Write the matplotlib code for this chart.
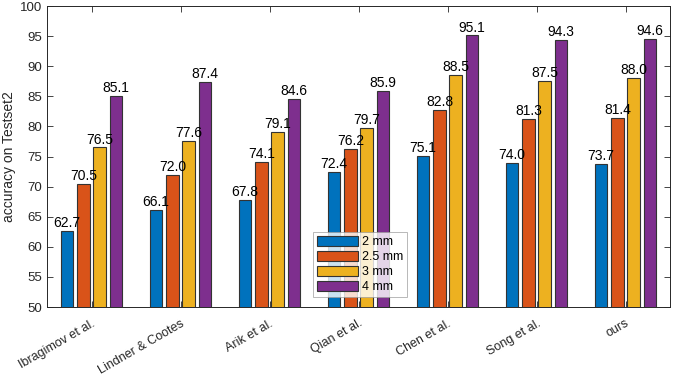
import matplotlib.pyplot as plt
import matplotlib.transforms as mtransforms
import numpy as np

plt.rcParams['font.family'] = ['Liberation Sans', 'DejaVu Sans']

methods = ['Ibragimov et al.', 'Lindner & Cootes', 'Arik et al.', 'Qian et al.',
           'Chen et al.', 'Song et al.', 'ours']
radii = ['2 mm', '2.5 mm', '3 mm', '4 mm']
acc_2mm = [62.7, 66.1, 67.8, 72.4, 75.1, 74.0, 73.7]
acc_25mm = [70.5, 72.0, 74.1, 76.2, 82.8, 81.3, 81.4]
acc_3mm = [76.5, 77.6, 79.1, 79.7, 88.5, 87.5, 88.0]
acc_4mm = [85.1, 87.4, 84.6, 85.9, 95.1, 94.3, 94.6]
series = [acc_2mm, acc_25mm, acc_3mm, acc_4mm]
colors = ['#0072BD', '#D95319', '#EDB120', '#7E2F8E']

fig = plt.figure(figsize=(6.73, 3.76), dpi=100)
ax = fig.add_axes([47 / 673, 1 - 307 / 376, 623 / 673, 301 / 376])

x = np.arange(1, len(methods) + 1)
offsets = [-0.275, -0.09, 0.09, 0.275]
width = 0.145
axc = '#262626'

for vals, off, col, lab in zip(series, offsets, colors, radii):
    bars = ax.bar(x + off, vals, width, color=col, edgecolor='#333333',
                  linewidth=0.8, label=lab, zorder=2)
    for b, v in zip(bars, vals):
        ax.text(b.get_x() + b.get_width() / 2, v + 0.15, '%.1f' % v,
                ha='center', va='bottom', fontsize=10, color='black')

ax.set_xlim(0.5, 7.5)
ax.set_ylim(50, 100)
ax.set_yticks(np.arange(50, 101, 5))
ax.set_xticks(x)
ax.set_xticklabels(methods, rotation=30, ha='right', va='top', rotation_mode='anchor',
                   fontsize=9, color=axc)
shift = mtransforms.ScaledTranslation(5 / 100, 0, fig.dpi_scale_trans)
for lbl in ax.get_xticklabels():
    lbl.set_transform(lbl.get_transform() + shift)
ax.tick_params(axis='y', labelsize=9.5, labelcolor=axc)
ax.tick_params(axis='x', pad=7.5)
ax.tick_params(direction='in', top=True, right=True, length=4, color=axc, width=0.6)
for s in ax.spines.values():
    s.set_color(axc)
    s.set_linewidth(0.7)
ax.set_ylabel('accuracy on Testset2', fontsize=10, color=axc, labelpad=3)

leg = ax.legend(loc='upper left', bbox_to_anchor=(266 / 623, 75 / 301),
                fontsize=9, frameon=True, fancybox=False, edgecolor='#999999',
                handlelength=3.3, handleheight=0.85, handletextpad=0.3,
                labelspacing=0.22, borderpad=0.3, borderaxespad=0)
leg.get_frame().set_linewidth(0.6)

fig.savefig('out.png', dpi=100)
